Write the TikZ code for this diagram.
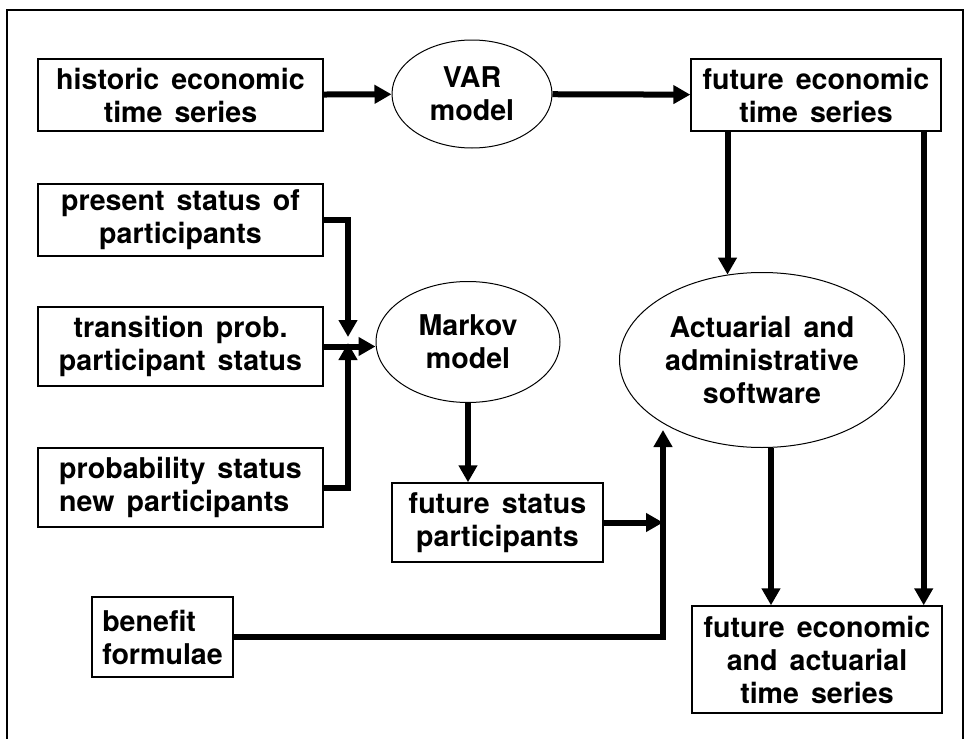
\documentclass[tikz,border=0pt]{standalone}
\usepackage{fontspec}
\setmainfont{TeX Gyre Heros}
\usetikzlibrary{arrows.meta,shapes.geometric}

\newcommand\labelfont{\bfseries\fontsize{14.3}{16.5}\selectfont\spaceskip=0.42em\relax}
\tikzset{
  box/.style={draw,line width=0.7pt,inner sep=0pt,align=center,font=\labelfont},
  oval/.style={box,ellipse,line width=0.5pt},
  arr/.style={line width=3pt,-{Triangle[length=8.5pt,width=9pt]}},
}

\begin{document}
\begin{tikzpicture}[x=0.5pt,y=-0.5pt]
      \useasboundingbox (0,0) rectangle (965,739);
      \draw[line width=0.75pt] (7,739) -- (7,10) -- (963,10) -- (963,739);

      % inputs on the left
      \node[box,minimum width=142.5pt,minimum height=36pt] (hist) at (180.5,95) {historic economic\\time series};
      \node[box,minimum width=142.5pt,minimum height=36pt] (pres) at (180.5,220) {present status of\\participants};
      \node[box,minimum width=142.5pt,minimum height=39.5pt] (trans) at (180.5,346.5) {transition prob.\\participant status};
      \node[box,align=left,minimum width=142.5pt,minimum height=39.5pt] (prob) at (180.5,487.5) {probability status\\new participants};
      \node[box,align=left,minimum width=70.5pt,minimum height=40pt] (benefit) at (162.5,637) {benefit\\formulae};

      % models
      \node[oval,minimum width=80pt,minimum height=54pt] (var) at (472,94) {VAR\\model};
      \node[oval,minimum width=92pt,minimum height=60.5pt] (markov) at (468,342) {Markov\\model};
      \node[oval,minimum width=142.5pt,minimum height=87.5pt] (act) at (762,360) {Actuarial and\\administrative\\software};

      % outputs
      \node[box,minimum width=125pt,minimum height=36pt] (fut) at (816,95) {future economic\\time series};
      \node[box,minimum width=105.5pt,minimum height=39.5pt] (futstat) at (497.5,522.5) {future status\\participants};
      \node[box,minimum width=125pt,minimum height=53.5pt] (result) at (817,659.5) {future economic\\and actuarial\\time series};

      \coordinate (junc) at (348,340);
      \coordinate (acttip) at (663,430);

      \draw[arr] (hist) -- (var);
      \draw[arr] (var) -- (fut);
      \draw[arr,shorten >=1.5pt] (pres.east) -| (junc);
      \draw[arr,shorten >=1.5pt] (prob.east) -| (junc);
      \draw[arr] (trans.east) -- (trans.east -| markov.west);
      \draw[arr] (markov.south) -- (markov.south |- futstat.north);
      \draw[arr] (futstat.east) -- (futstat.east -| acttip);
      \draw[arr] (benefit.east) -| (acttip);
      \draw[arr] (fut.south -| act.112) -- (act.112);
      \draw[arr] ([xshift=-9pt]fut.south east) -- ([xshift=-9pt]fut.south east |- result.north);
      \draw[arr] ([xshift=4.5pt]act.south) -- ([xshift=4.5pt]act.south |- result.north);
    \end{tikzpicture}
\end{document}
